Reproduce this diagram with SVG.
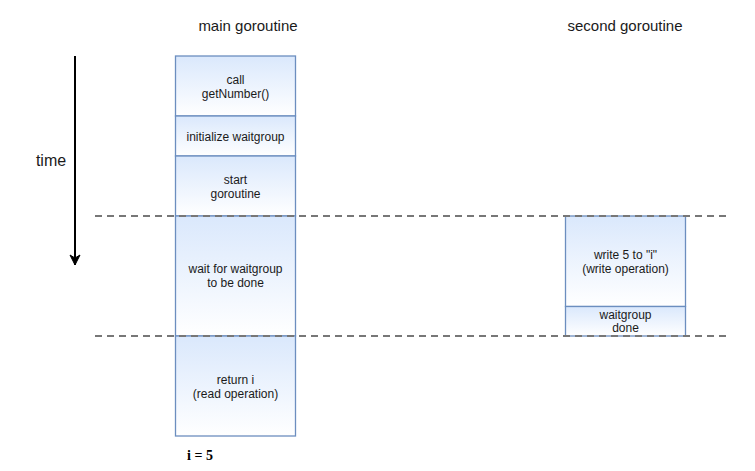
<svg xmlns="http://www.w3.org/2000/svg" width="755" height="471" viewBox="0 0 755 471">
<defs>
  <linearGradient id="g" x1="0" y1="0" x2="0" y2="1">
    <stop offset="0" stop-color="#dae8fc"/>
    <stop offset="1" stop-color="#ffffff"/>
  </linearGradient>
  <marker id="arr" viewBox="0 0 12 12" markerWidth="12" markerHeight="12" refX="11" refY="6" orient="auto" markerUnits="userSpaceOnUse">
    <path d="M1,1 L11,6 L1,11 L4,6 Z" fill="#000" stroke="#000" stroke-width="1"/>
  </marker>
  <style>
    .box{fill:url(#g);stroke:#6c8ebf;stroke-width:1.3}
    .t{font-family:"Liberation Sans",Arial,sans-serif;font-size:12px;fill:#1a1a1a;text-anchor:middle}
    .h{font-family:"Liberation Sans",Arial,sans-serif;font-size:15px;fill:#1a1a1a;text-anchor:middle}
    .dash{stroke:#777777;stroke-width:2;stroke-dasharray:7 5;fill:none}
  </style>
</defs>
<rect width="755" height="471" fill="#ffffff"/>
<text class="h" x="248" y="31">main goroutine</text>
<text class="h" x="625" y="31">second goroutine</text>
<text x="51" y="166" style="font-family:'Liberation Sans',Arial,sans-serif;font-size:16px;fill:#1a1a1a;text-anchor:middle">time</text>

<g id="n1"><rect class="box" x="175.5" y="56" width="120" height="60"/>
<text class="t" x="235.5" y="83.5">call</text><text class="t" x="235.5" y="97.5">getNumber()</text></g>
<g id="n2"><rect class="box" x="175.5" y="116" width="120" height="40"/>
<text class="t" x="235.5" y="140.5">initialize waitgroup</text></g>
<g id="n3"><rect class="box" x="175.5" y="156" width="120" height="60"/>
<text class="t" x="235.5" y="183.5">start</text><text class="t" x="235.5" y="197.5">goroutine</text></g>
<g id="n4"><rect class="box" x="175.5" y="216" width="120" height="120"/>
<text class="t" x="235.5" y="272.5">wait for waitgroup</text><text class="t" x="235.5" y="286.5">to be done</text></g>
<g id="n5"><rect class="box" x="175.5" y="336" width="120" height="100"/>
<text class="t" x="235.5" y="383.5">return i</text><text class="t" x="235.5" y="397.5">(read operation)</text></g>
<g id="n6"><rect class="box" x="565.5" y="216" width="120" height="90.5"/>
<text class="t" x="625.5" y="258.5">write 5 to "i"</text><text class="t" x="625.5" y="272.5">(write operation)</text></g>
<g id="n7"><rect class="box" x="565.5" y="306.5" width="120" height="29.5"/>
<text class="t" x="625.5" y="318.5">waitgroup</text><text class="t" x="625.5" y="332">done</text></g>

<g id="connectors">
  <line x1="75" y1="56" x2="75" y2="265" stroke="#000" stroke-width="2" marker-end="url(#arr)"/>
  <line class="dash" x1="95" y1="216" x2="726" y2="216"/>
  <line class="dash" x1="95" y1="336" x2="726" y2="336"/>
</g>
<text x="200" y="460" style="font-family:'Liberation Serif','Times New Roman',serif;font-size:14px;font-weight:bold;fill:#000;text-anchor:middle">i = 5</text>
</svg>
